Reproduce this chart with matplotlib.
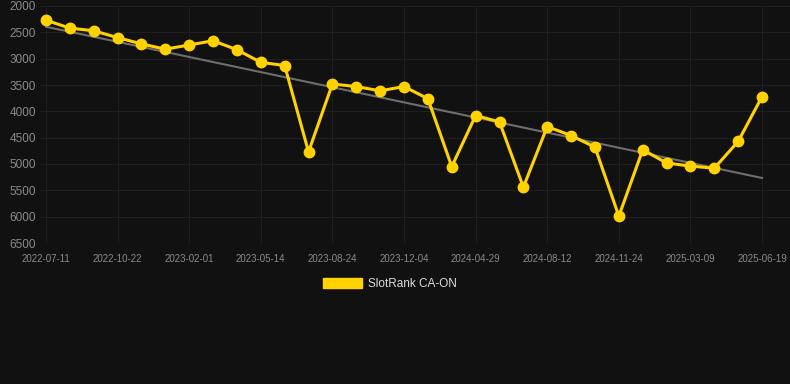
import numpy as np
import matplotlib.pyplot as plt
from matplotlib.patches import Patch

plt.rcParams['font.family'] = ['Liberation Sans', 'DejaVu Sans']

# rank values, one point per sample (categorical x axis)
ranks = [2270, 2420, 2470, 2600, 2720, 2820, 2740, 2660, 2830, 3070,
         3130, 4770, 3480, 3530, 3610, 3530, 3760, 5050, 4080, 4200,
         5440, 4290, 4460, 4680, 5990, 4730, 4980, 5040, 5080, 4570,
         3720]
# only every third sample carries a label
tick_labels = ['2022-07-11', '2022-10-22', '2023-02-01', '2023-05-14',
               '2023-08-24', '2023-12-04', '2024-04-29', '2024-08-12',
               '2024-11-24', '2025-03-09', '2025-06-19']
series_name = 'SlotRank CA-ON'

bg = '#111111'
gold = '#FFD200'

fig = plt.figure(figsize=(7.9, 3.84), dpi=100, facecolor=bg)
ax = fig.add_axes([40 / 790, 1 - 243 / 384, 750 / 790, 237 / 384])
ax.set_facecolor(bg)

x = np.arange(len(ranks))
# trend line
k, b = np.polyfit(x, ranks, 1)
ax.plot(x, k * x + b, color='#6e6e6e', lw=1.5, zorder=2)

ax.plot(x, ranks, color=gold, lw=2.2, marker='o', ms=7.5,
        markerfacecolor=gold, markeredgecolor=gold, zorder=3)

ax.set_ylim(6500, 2000)
ax.set_yticks(range(2000, 6501, 500))
step = 3
ax.set_xticks(x[::step])
ax.set_xticklabels(tick_labels)
ax.set_xlim(-0.25, 31.17)

ax.grid(True, color='#1f1f1f', lw=0.8)
ax.set_axisbelow(True)
for s in ax.spines.values():
    s.set_visible(False)
ax.tick_params(axis='y', length=0, pad=3, labelsize=8.5, labelcolor='#8a8a8a')
ax.tick_params(axis='x', length=0, pad=8, labelsize=7, labelcolor='#8a8a8a')

handle = Patch(facecolor=gold, edgecolor=gold)
fig.legend([handle], [series_name], loc='center',
           bbox_to_anchor=(390 / 790, 1 - 284 / 384), frameon=False,
           fontsize=8.5, labelcolor='#dddddd', handlelength=3.3,
           handleheight=0.95, handletextpad=0.5)

fig.savefig('out.png', dpi=100, facecolor=bg)
